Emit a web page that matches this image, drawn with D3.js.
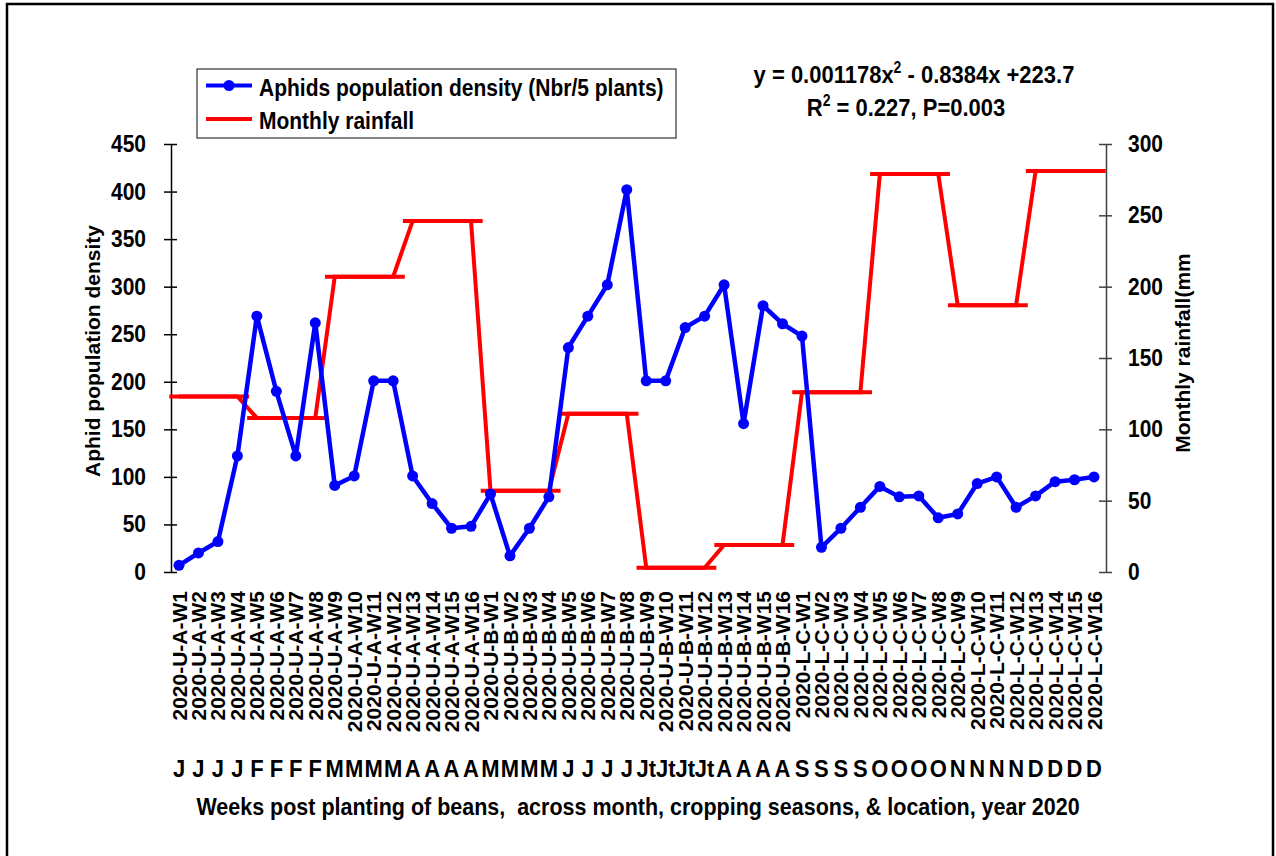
<!DOCTYPE html>
<html lang="en">
<head>
  <meta charset="utf-8">
  <title>Aphids and rainfall</title>
  <script src="https://d3js.org/d3.v7.min.js"></script>
  <style>
    body { margin: 0; background: #fff; }
    svg text { font-family: 'Liberation Sans', Arial, sans-serif; font-weight: bold; fill: #000; }
  </style>
</head>
<body>
<div id="chart"></div>
<script>
  // week categories (site - week)
  var weeks = [
    "2020-U-A-W1","2020-U-A-W2","2020-U-A-W3","2020-U-A-W4","2020-U-A-W5","2020-U-A-W6","2020-U-A-W7","2020-U-A-W8",
    "2020-U-A-W9","2020-U-A-W10","2020-U-A-W11","2020-U-A-W12","2020-U-A-W13","2020-U-A-W14","2020-U-A-W15","2020-U-A-W16",
    "2020-U-B-W1","2020-U-B-W2","2020-U-B-W3","2020-U-B-W4","2020-U-B-W5","2020-U-B-W6","2020-U-B-W7","2020-U-B-W8",
    "2020-U-B-W9","2020-U-B-W10","2020-U-B-W11","2020-U-B-W12","2020-U-B-W13","2020-U-B-W14","2020-U-B-W15","2020-U-B-W16",
    "2020-L-C-W1","2020-L-C-W2","2020-L-C-W3","2020-L-C-W4","2020-L-C-W5","2020-L-C-W6","2020-L-C-W7","2020-L-C-W8",
    "2020-L-C-W9","2020-L-C-W10","2020-L-C-W11","2020-L-C-W12","2020-L-C-W13","2020-L-C-W14","2020-L-C-W15","2020-L-C-W16"
  ];
  var monthLetters = [
    "J","J","J","J","F","F","F","F","M","M","M","M","A","A","A","A",
    "M","M","M","M","J","J","J","J","Jt","Jt","Jt","Jt","A","A","A","A",
    "S","S","S","S","O","O","O","O","N","N","N","N","D","D","D","D"
  ];
  // aphids per 5 plants
  var aphids = [
    7, 20, 32, 122, 269, 190, 122, 262, 91, 101, 201, 201, 101, 72, 46, 48,
    82, 17, 46, 79, 236, 269, 302, 402, 201, 201, 257, 269, 302, 156, 280, 261,
    248, 26, 46, 68, 90, 79, 80, 57, 61, 93, 100, 68, 80, 95, 97, 100
  ];
  // monthly rainfall (mm), one value per week
  var rainfall = [
    123, 123, 123, 123, 108, 108, 108, 108, 207, 207, 207, 207, 246, 246, 246, 246,
    57, 57, 57, 57, 111, 111, 111, 111, 3, 3, 3, 3, 19, 19, 19, 19,
    126, 126, 126, 126, 279, 279, 279, 279, 187, 187, 187, 187, 281, 281, 281, 281
  ];
  var leftTicks = [0, 50, 100, 150, 200, 250, 300, 350, 400, 450];
  var rightTicks = [0, 50, 100, 150, 200, 250, 300];

  var width = 1276, height = 856;
  var plotLeft = 171, plotRight = 1106, plotTop = 144, plotBottom = 572;
  var tall = "scale(1,1.12)"; // original glyphs look a bit taller than wide

  var svg = d3.select("#chart").append("svg")
    .attr("width", width)
    .attr("height", height);

  // outer frame
  svg.append("rect")
    .attr("x", 7).attr("y", 4)
    .attr("width", 1266).attr("height", 870)
    .attr("fill", "none").attr("stroke", "#000").attr("stroke-width", 2.5);

  var x = d3.scalePoint().domain(weeks).range([plotLeft + 8, plotRight - 12]);
  var step = x.step();
  var yL = d3.scaleLinear().domain([0, 450]).range([plotBottom, plotTop]);
  var yR = d3.scaleLinear().domain([0, 300]).range([plotBottom, plotTop]);

  // text placed at (tx, ty) with taller glyphs
  function label(parent, tx, ty, size) {
    return parent.append("text")
      .attr("transform", "translate(" + tx + "," + ty + ") " + tall)
      .style("font-size", size + "px");
  }

  // left axis
  var gL = svg.append("g")
    .attr("transform", "translate(" + plotLeft + ",0)")
    .call(d3.axisLeft(yL).tickValues(leftTicks).tickSizeOuter(0).tickSizeInner(7).tickPadding(18));
  gL.select(".domain").attr("stroke", "#000").attr("stroke-width", 1.5);
  gL.selectAll(".tick line").attr("x1", 6).attr("x2", -7).attr("stroke-width", 1.5);
  gL.selectAll(".tick text").style("font-size", "21px").attr("dy", "0.32em").attr("transform", tall);

  // right axis
  var gR = svg.append("g")
    .attr("transform", "translate(" + plotRight + ",0)")
    .call(d3.axisRight(yR).tickValues(rightTicks).tickSizeOuter(0).tickSizeInner(6).tickPadding(16));
  gR.select(".domain").attr("stroke", "#404040").attr("stroke-width", 1.5);
  gR.selectAll(".tick line").attr("x1", -7).attr("x2", 6).attr("stroke", "#404040").attr("stroke-width", 1.5);
  gR.selectAll(".tick text").style("font-size", "21px").attr("dy", "0.32em").attr("transform", tall);

  // rainfall line with month caps
  var rainLine = d3.line()
    .x(function(d, i) { return x(weeks[i]); })
    .y(function(d) { return yR(d); });
  svg.append("path")
    .datum(rainfall)
    .attr("d", rainLine)
    .attr("fill", "none")
    .attr("stroke", "#ff0000")
    .attr("stroke-width", 4);

  var months = d3.range(0, weeks.length, 4);
  svg.selectAll(".cap")
    .data(months)
    .enter().append("line")
    .attr("class", "cap")
    .attr("x1", function(i) { return x(weeks[i]) - step * 0.5; })
    .attr("x2", function(i) { return x(weeks[i + 3]) + step * 0.6; })
    .attr("y1", function(i) { return yR(rainfall[i]); })
    .attr("y2", function(i) { return yR(rainfall[i]); })
    .attr("stroke", "#ff0000")
    .attr("stroke-width", 4);

  // aphid line
  var aphidLine = d3.line()
    .x(function(d, i) { return x(weeks[i]); })
    .y(function(d) { return yL(d); });
  svg.append("path")
    .datum(aphids)
    .attr("d", aphidLine)
    .attr("fill", "none")
    .attr("stroke", "#0000ff")
    .attr("stroke-width", 4.5)
    .attr("stroke-linejoin", "round");
  svg.selectAll(".dot")
    .data(aphids)
    .enter().append("circle")
    .attr("class", "dot")
    .attr("cx", function(d, i) { return x(weeks[i]); })
    .attr("cy", function(d) { return yL(d); })
    .attr("r", 5.5)
    .attr("fill", "#0000ff");

  // rotated week labels
  svg.selectAll(".wk")
    .data(weeks)
    .enter().append("text")
    .attr("class", "wk")
    .attr("transform", function(d) { return "translate(" + x(d) + ",591) rotate(-90)"; })
    .attr("text-anchor", "end")
    .attr("dy", "0.36em")
    .style("font-size", "21px")
    .text(function(d) { return d; });

  // month letters
  monthLetters.forEach(function(m, i) {
    label(svg, x(weeks[i]), 777, 22).attr("text-anchor", "middle").text(m);
  });

  // axis titles
  label(svg, 638, 815, 21.5)
    .attr("text-anchor", "middle")
    .attr("xml:space", "preserve")
    .text("Weeks post planting of beans,  across month, cropping seasons, & location, year 2020");
  svg.append("text")
    .attr("transform", "translate(100,351) rotate(-90)")
    .attr("text-anchor", "middle")
    .style("font-size", "21px")
    .text("Aphid population density");
  svg.append("text")
    .attr("transform", "translate(1190,353) rotate(-90)")
    .attr("text-anchor", "middle")
    .style("font-size", "21px")
    .text("Monthly rainfall(mm");

  // equation
  var eq = label(svg, 914, 83, 22).attr("text-anchor", "middle");
  eq.append("tspan").text("y = 0.001178x");
  eq.append("tspan").attr("dy", -9).style("font-size", "14px").text("2");
  eq.append("tspan").attr("dy", 9).text(" - 0.8384x +223.7");
  var r2 = label(svg, 906, 116, 22).attr("text-anchor", "middle");
  r2.append("tspan").text("R");
  r2.append("tspan").attr("dy", -9).style("font-size", "14px").text("2");
  r2.append("tspan").attr("dy", 9).text(" = 0.227, P=0.003");

  // legend
  var lg = svg.append("g");
  lg.append("rect")
    .attr("x", 197).attr("y", 69)
    .attr("width", 479).attr("height", 69)
    .attr("fill", "#fff").attr("stroke", "#333").attr("stroke-width", 1.2);
  lg.append("line").attr("x1", 206).attr("x2", 252).attr("y1", 85.5).attr("y2", 85.5)
    .attr("stroke", "#0000ff").attr("stroke-width", 4);
  lg.append("circle").attr("cx", 229).attr("cy", 85.5).attr("r", 5.5).attr("fill", "#0000ff");
  label(lg, 259, 96, 21).text("Aphids population density (Nbr/5 plants)");
  lg.append("line").attr("x1", 206).attr("x2", 252).attr("y1", 119).attr("y2", 119)
    .attr("stroke", "#ff0000").attr("stroke-width", 4);
  label(lg, 259, 129, 21).text("Monthly rainfall");
</script>
</body>
</html>
